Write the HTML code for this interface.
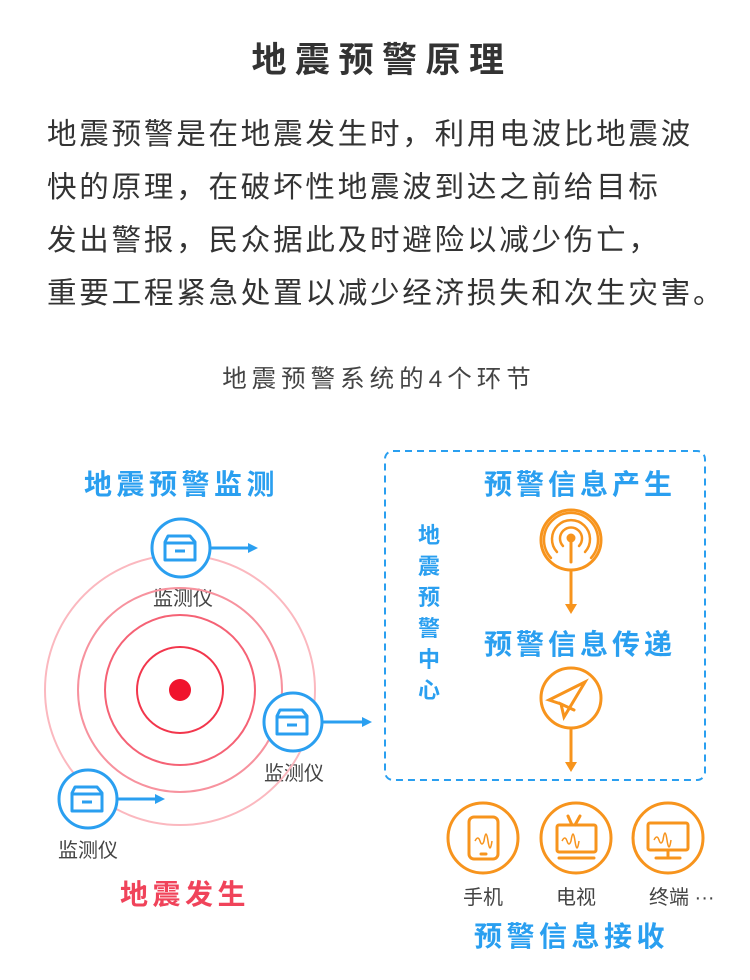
<!DOCTYPE html>
<html><head><meta charset="utf-8"><style>
body{margin:0;background:#fff;width:750px;height:980px;overflow:hidden;position:relative;font-family:"Liberation Sans","Noto Sans CJK SC",sans-serif}
.t{position:absolute;white-space:nowrap}
</style></head><body>
<div class="t" style="left:0;width:750px;text-align:center;top:32px;font-size:35px;font-weight:bold;color:#333;letter-spacing:8.5px;text-indent:14px">地震预警原理</div>
<div class="t" style="left:47px;top:108px;font-size:29.5px;line-height:53px;color:#333;letter-spacing:2.8px">地震预警是在地震发生时，利用电波比地震波<br>快的原理，在破坏性地震波到达之前给目标<br>发出警报，民众据此及时避险以减少伤亡，<br>重要工程紧急处置以减少经济损失和次生灾害。</div>
<div class="t" style="left:0;width:750px;text-align:center;top:360px;font-size:24.5px;color:#444;letter-spacing:5px;text-indent:8px">地震预警系统的4个环节</div>
<div class="t" style="left:84px;top:463px;font-size:28px;color:#2a9ff0;font-weight:bold;letter-spacing:4.5px">地震预警监测</div>
<div class="t" style="left:484px;top:463px;font-size:28px;color:#2a9ff0;font-weight:bold;letter-spacing:4px">预警信息产生</div>
<div class="t" style="left:484px;top:623px;font-size:28px;color:#2a9ff0;font-weight:bold;letter-spacing:4px">预警信息传递</div>
<div class="t" style="left:474px;top:915px;font-size:28px;color:#2a9ff0;font-weight:bold;letter-spacing:4.5px">预警信息接收</div>
<div class="t" style="left:120px;top:873px;font-size:28px;color:#f0435a;font-weight:bold;letter-spacing:4.5px">地震发生</div>
<div class="t" style="left:414px;top:520px;width:30px;font-size:22px;line-height:31px;color:#2a9ff0;font-weight:bold;white-space:normal;text-align:center">地震预警中心</div>
<div class="t" style="left:153px;top:582px;font-size:20px;color:#444">监测仪</div>
<div class="t" style="left:264px;top:757px;font-size:20px;color:#444">监测仪</div>
<div class="t" style="left:58px;top:834px;font-size:20px;color:#444">监测仪</div>
<div class="t" style="left:463px;top:881px;font-size:20px;color:#444">手机</div>
<div class="t" style="left:556px;top:881px;font-size:20px;color:#444">电视</div>
<div class="t" style="left:649px;top:881px;font-size:20px;color:#444">终端 ···</div>
<svg width="750" height="980" style="position:absolute;left:0;top:0" fill="none">
<defs>
<g id="box"><circle r="29" stroke="#2a9ff0" stroke-width="3" fill="#fff"/><path d="M-13-12h22l5 6v18h-30v-18z M-16-5h30 M-6 3h10" stroke="#2a9ff0" stroke-width="3" stroke-linejoin="round"/></g>
</defs>
<circle cx="180" cy="690" r="135" stroke="#fbb8bf" stroke-width="2"/>
<circle cx="180" cy="690" r="102" stroke="#f7929e" stroke-width="2"/>
<circle cx="180" cy="690" r="75" stroke="#f56275" stroke-width="2"/>
<circle cx="180" cy="690" r="43" stroke="#f2364c" stroke-width="2"/>
<circle cx="180" cy="690" r="11" fill="#f0142d"/>
<use href="#box" x="181" y="548"/><use href="#box" x="293" y="722"/><use href="#box" x="88" y="799"/>
<g stroke="#2a9ff0" stroke-width="3"><path d="M211 548h38M323 722h40M118 799h38"/></g>
<g fill="#2a9ff0"><path d="M258 548l-10-5v10z M372 722l-10-5v10z M165 799l-10-5v10z"/></g>
<rect x="385" y="451" width="320" height="329" rx="8" stroke="#2a9ff0" stroke-width="2" stroke-dasharray="7 5"/>
<g stroke="#f7941d" stroke-width="3" stroke-linecap="round">
<circle cx="571" cy="540" r="30"/>
<path d="M571 540v22"/><circle cx="571" cy="538" r="3" fill="#f7941d"/>
<path d="M563 546a11 11 0 1 1 16 0M557 552a19 19 0 1 1 28 0M551 558a27 27 0 1 1 40 0" stroke-width="2.5"/>
<path d="M571 570v36"/>
<circle cx="571" cy="698" r="30"/>
<path d="M585 682l-36 18 12 4 3 13zM564 717l-3-13 13 6"/>
<path d="M571 728v36"/>
<circle cx="483" cy="838" r="35"/><rect x="469" y="817" width="29" height="42" rx="5"/><path d="M481 854h5"/>
<circle cx="576" cy="838" r="35"/><rect x="557" y="825" width="39" height="27" rx="2"/><path d="M559 858h35M572 825l-4-9M575 825l5-9"/>
<circle cx="668" cy="838" r="35"/><rect x="648" y="823" width="40" height="27" rx="2"/><path d="M668 850v6M656 858h24"/>
</g>
<g fill="#f7941d"><path d="M571 614l-6-10h12z M571 772l-6-10h12z"/></g>
<g stroke="#f7941d" stroke-width="1.5"><path d="M475 841q3-6 5 0t4 0q2-14 4 0t4 0M562 841q3-6 5 0t4 0q2-14 4 0t4 0M654 840q3-6 5 0t4 0q2-14 4 0t4 0"/></g>
</svg>
</body></html>
